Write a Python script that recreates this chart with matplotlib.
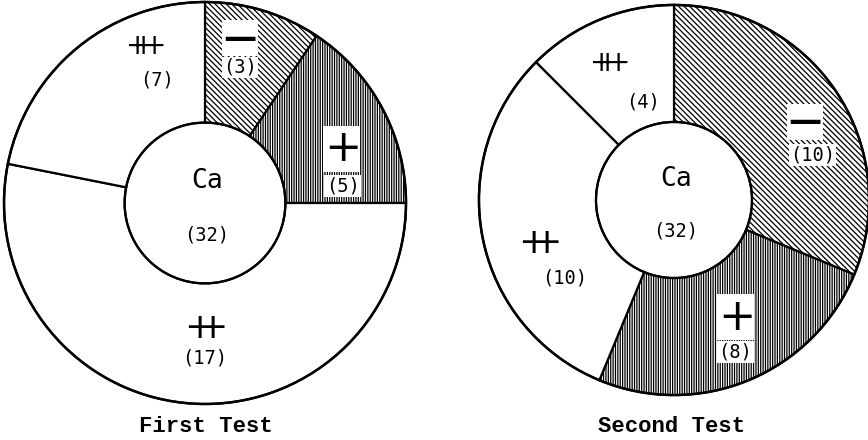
import matplotlib.pyplot as plt
from matplotlib.patches import Circle

# data: counts per grade, clockwise from 12 o'clock
grades = ['−', '+', '++', '+++']
first_counts = [3, 5, 17, 7]
second_counts = [10, 8, 10, 4]
titles = ['First Test', 'Second Test']
center_label = 'Ca'

hatches = ['\\\\\\\\\\\\', '|||||||', '', '']
glyphs = {'−': '—', '+': r'$+$',
          '++': r'$+\!\!\!\!+$', '+++': r'$+\!\!\!\!\!+\!\!\!\!\!+$'}
glyph_size = {'−': 24, '+': 32, '++': 26, '+++': 20}

# label spots (data coords, radius 1) for each grade, then the count
spots_first = [((0.175, 0.82), (0.175, 0.675)),
               ((0.68, 0.27), (0.685, 0.085)),
               ((0.0, -0.62), (0.0, -0.77)),
               ((-0.30, 0.78), (-0.24, 0.61))]
spots_second = [((0.67, 0.40), (0.71, 0.23)),
                ((0.315, -0.60), (0.315, -0.78)),
                ((-0.69, -0.22), (-0.56, -0.40)),
                ((-0.335, 0.70), (-0.16, 0.50))]

plt.rcParams['hatch.linewidth'] = 0.9
fig = plt.figure(figsize=(8.68, 4.40), dpi=100)
ax1 = fig.add_axes([0 / 868, 34 / 440, 410 / 868, 406 / 440])
ax2 = fig.add_axes([477 / 868, 43 / 440, 394 / 868, 394 / 440])

for ax, counts, spots, title in [(ax1, first_counts, spots_first, titles[0]),
                                 (ax2, second_counts, spots_second, titles[1])]:
    wedges, _ = ax.pie(counts, startangle=90, counterclock=False, radius=1,
                       colors=['white'] * 4,
                       wedgeprops=dict(width=0.6, edgecolor='black', linewidth=1.6))
    for w, h in zip(wedges, hatches):
        w.set_hatch(h)
    ax.add_patch(Circle((0, 0), 1.0, fill=False, edgecolor='black', lw=1.8, zorder=3))
    ax.add_patch(Circle((0, 0), 0.4, fill=False, edgecolor='black', lw=1.6, zorder=3))

    for g, c, h, (gp, cp) in zip(grades, counts, hatches, spots):
        box = dict(facecolor='white', edgecolor='none', pad=1.0) if h else None
        ax.text(gp[0], gp[1], glyphs[g], ha='center', va='center',
                fontsize=glyph_size[g], color='black', bbox=box, zorder=4,
                weight='bold' if g == '−' else 'normal')
        ax.text(cp[0], cp[1], '(%d)' % c, ha='center', va='center',
                fontsize=13.5, family='DejaVu Sans Mono', bbox=box, zorder=4)

    ax.text(0.01, 0.11, center_label, ha='center', va='center',
            fontsize=19, family='DejaVu Sans Mono', zorder=4)
    ax.text(0.01, -0.16, '(%d)' % sum(counts), ha='center', va='center',
            fontsize=13.5, family='DejaVu Sans Mono', zorder=4)

    ax.set_xlim(-1.01, 1.01)
    ax.set_ylim(-1.01, 1.01)
    ax.set_aspect('equal')
    ax.axis('off')

fig.text(206 / 868, 1 - 426 / 440, titles[0], ha='center', va='center',
         fontsize=16, family='Liberation Mono', weight='bold')
fig.text(672 / 868, 1 - 426 / 440, titles[1], ha='center', va='center',
         fontsize=16, family='Liberation Mono', weight='bold')

fig.savefig('out.png', dpi=100, facecolor='white')
